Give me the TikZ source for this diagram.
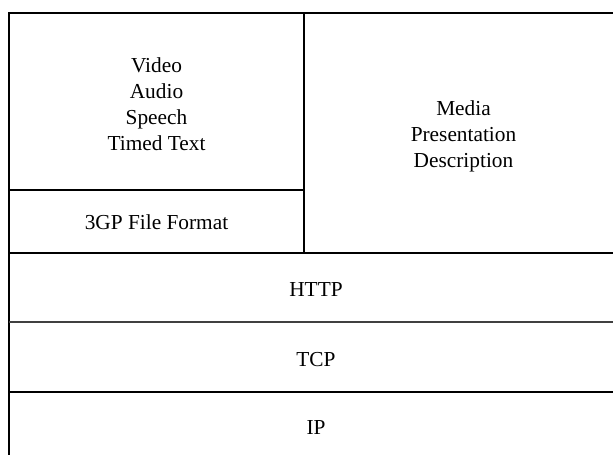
\documentclass[tikz,border=0pt]{standalone}
\usepackage{fontspec}
\setmainfont{Liberation Serif}
\tikzset{layertext/.style={align=center,inner sep=0pt,font=\fontsize{16}{19.5}\selectfont}}

\begin{document}
\begin{tikzpicture}[x=0.75pt,y=-0.75pt,line width=1.4pt]
\useasboundingbox (0,0) rectangle (613,454);
\clip (0,0) rectangle (613,454);
%\draw[help lines] (0,0) grid (613,454);
\draw (9,470) -- (9,13) -- (630,13);
\draw (304,13) -- (304,253);
\draw (9,190) -- (304,190);
\draw [line width=2pt] (9,253) -- (630,253);
\draw [black!75] (9,322) -- (630,322);
\draw (9,392) -- (630,392);

\node (media) at (156.5,104) [layertext] {Video\\Audio\\Speech\\Timed Text};
\node (mpd) at (463.5,136) [layertext] {Media\\Presentation\\Description};
\node (fileformat) at (156.5,222) [layertext] {3GP File Format};
\node (http) at (316,290) [layertext] {HTTP};
\node (tcp) at (316,360) [layertext] {TCP};
\node (ip) at (316,428) [layertext] {IP};
\end{tikzpicture}
\end{document}
